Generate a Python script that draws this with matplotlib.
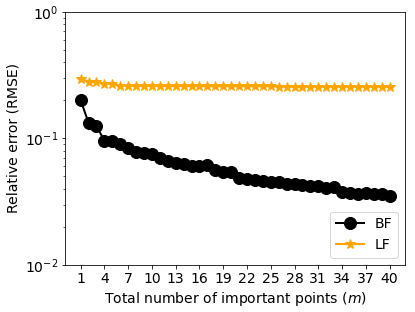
import matplotlib
matplotlib.use("Agg")
import matplotlib.pyplot as plt
import numpy as np

m = np.arange(1, 41)
bf = [0.201, 0.133, 0.125, 0.096, 0.096, 0.090, 0.0836, 0.0787, 0.0764, 0.0754,
      0.0697, 0.0668, 0.0637, 0.0625, 0.0606, 0.0606, 0.0617, 0.0564, 0.0547, 0.0547,
      0.0484, 0.0475, 0.0470, 0.0461, 0.0455, 0.0448, 0.0438, 0.0434, 0.0429, 0.0420,
      0.0420, 0.0404, 0.0410, 0.0376, 0.0369, 0.0366, 0.0369, 0.0366, 0.0364, 0.0351]
lf = [0.295, 0.281, 0.278, 0.270, 0.270, 0.261, 0.260, 0.260, 0.260, 0.260,
      0.259, 0.259, 0.259, 0.259, 0.259, 0.259, 0.258, 0.258, 0.258, 0.258,
      0.258, 0.258, 0.258, 0.258, 0.258, 0.257, 0.257, 0.257, 0.257, 0.257,
      0.257, 0.257, 0.257, 0.257, 0.257, 0.257, 0.257, 0.257, 0.257, 0.257]
xticks = [1, 4, 7, 10, 13, 16, 19, 22, 25, 28, 31, 34, 37, 40]

plt.rcParams['font.size'] = 14
fig, ax = plt.subplots(figsize=(415 / 72, 312 / 72), dpi=72)
ax.plot(m, bf, color='black', marker='o', linewidth=2, markersize=12, label='BF')
ax.plot(m, lf, color='orange', marker='*', linewidth=2, markersize=10, label='LF')
ax.set_yscale('log')
ax.set_ylim(1e-2, 1)
ax.set_xticks(xticks)
ax.set_xlabel('Total number of important points ($m$)')
ax.set_ylabel('Relative error (RMSE)')
ax.legend(loc='lower right')
fig.subplots_adjust(left=0.157, right=0.976, top=0.962, bottom=0.151)
fig.savefig('out.png')
